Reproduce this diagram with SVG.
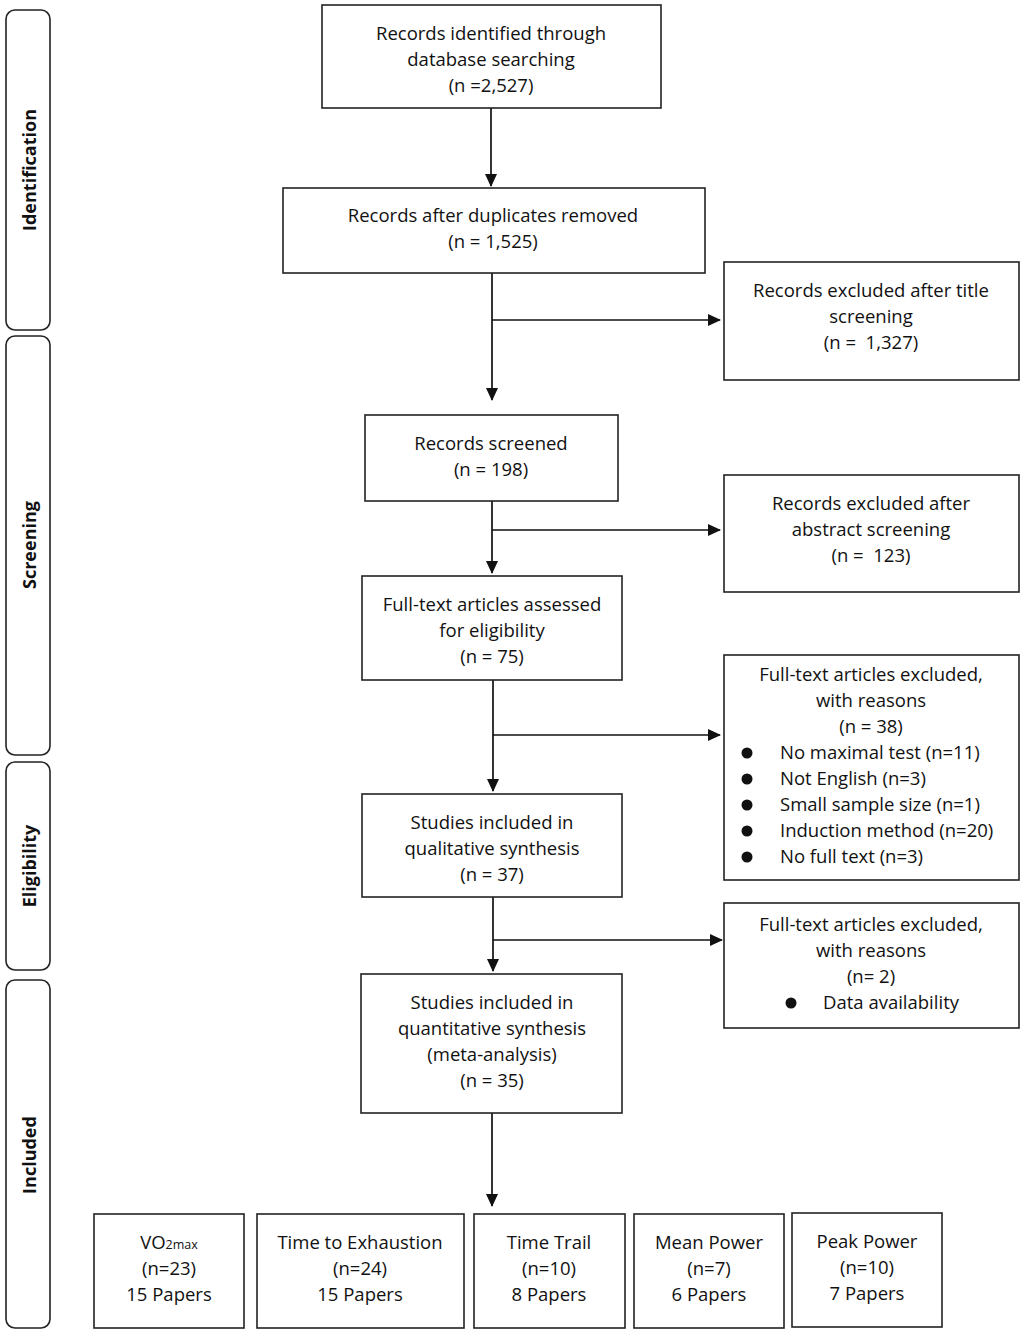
<svg xmlns="http://www.w3.org/2000/svg" width="1026" height="1339" viewBox="0 0 1026 1339">
<style>
.box{fill:#fff;stroke:#222;stroke-width:1.6}
.side{fill:#fff;stroke:#222;stroke-width:1.6}
.t{font-family:"Open Sans","Liberation Sans",sans-serif;font-size:18.5px;fill:#111;text-anchor:middle}
.tl{font-family:"Open Sans","Liberation Sans",sans-serif;font-size:18.5px;fill:#111}
.s{font-family:"Open Sans","Liberation Sans",sans-serif;font-size:18px;font-weight:bold;fill:#111;text-anchor:middle}
.c{fill:none;stroke:#111;stroke-width:1.7}
</style>
<defs>
<marker id="ah" markerWidth="13" markerHeight="12" refX="12" refY="6" orient="auto" markerUnits="userSpaceOnUse">
<path d="M0,0 L13,6 L0,12 z" fill="#111"/>
</marker>
</defs>
<rect width="1026" height="1339" fill="#fff"/>
<g id="side-identification"><rect class="side" x="6" y="10" width="44" height="320" rx="9"/><text class="s" transform="translate(36,170) rotate(-90)">Identification</text></g>
<g id="side-screening"><rect class="side" x="6" y="336" width="44" height="419" rx="9"/><text class="s" transform="translate(36,545) rotate(-90)">Screening</text></g>
<g id="side-eligibility"><rect class="side" x="6" y="762" width="44" height="208" rx="9"/><text class="s" transform="translate(36,866) rotate(-90)">Eligibility</text></g>
<g id="side-included"><rect class="side" x="6" y="980" width="44" height="348" rx="9"/><text class="s" transform="translate(36,1155) rotate(-90)">Included</text></g>

<g id="connectors">
<line class="c" x1="491" y1="108" x2="491" y2="186" marker-end="url(#ah)"/>
<line class="c" x1="492" y1="273" x2="492" y2="400" marker-end="url(#ah)"/>
<line class="c" x1="492" y1="320" x2="720" y2="320" marker-end="url(#ah)"/>
<line class="c" x1="492" y1="501" x2="492" y2="573" marker-end="url(#ah)"/>
<line class="c" x1="492" y1="530" x2="720" y2="530" marker-end="url(#ah)"/>
<line class="c" x1="493" y1="680" x2="493" y2="791" marker-end="url(#ah)"/>
<line class="c" x1="493" y1="735" x2="720" y2="735" marker-end="url(#ah)"/>
<line class="c" x1="493" y1="897" x2="493" y2="971" marker-end="url(#ah)"/>
<line class="c" x1="493" y1="940" x2="722" y2="940" marker-end="url(#ah)"/>
<line class="c" x1="492" y1="1113" x2="492" y2="1206" marker-end="url(#ah)"/>
</g>

<g id="n-identified"><rect class="box" x="322" y="5" width="339" height="103"/>
<text class="t" x="491" y="40">Records identified through</text><text class="t" x="491" y="66">database searching</text><text class="t" x="491" y="92">(n =2,527)</text></g>
<g id="n-duplicates"><rect class="box" x="283" y="188" width="422" height="85"/>
<text class="t" x="493" y="222">Records after duplicates removed</text><text class="t" x="493" y="248">(n = 1,525)</text></g>
<g id="n-excl-title"><rect class="box" x="724" y="262" width="295" height="118"/>
<text class="t" x="871" y="297">Records excluded after title</text><text class="t" x="871" y="323">screening</text><text class="t" x="871" y="349" xml:space="preserve">(n =  1,327)</text></g>
<g id="n-screened"><rect class="box" x="365" y="415" width="253" height="86"/>
<text class="t" x="491" y="450">Records screened</text><text class="t" x="491" y="476">(n = 198)</text></g>
<g id="n-excl-abstract"><rect class="box" x="724" y="475" width="295" height="117"/>
<text class="t" x="871" y="510">Records excluded after</text><text class="t" x="871" y="536">abstract screening</text><text class="t" x="871" y="562" xml:space="preserve">(n =  123)</text></g>
<g id="n-fulltext"><rect class="box" x="362" y="576" width="260" height="104"/>
<text class="t" x="492" y="611">Full-text articles assessed</text><text class="t" x="492" y="637">for eligibility</text><text class="t" x="492" y="663">(n = 75)</text></g>
<g id="n-excl-fulltext"><rect class="box" x="724" y="655" width="295" height="225"/>
<text class="t" x="871" y="681">Full-text articles excluded,</text><text class="t" x="871" y="707">with reasons</text><text class="t" x="871" y="733">(n = 38)</text>
<circle cx="747" cy="753" r="5.5" fill="#111"/><text class="tl" x="780" y="759">No maximal test (n=11)</text>
<circle cx="747" cy="779" r="5.5" fill="#111"/><text class="tl" x="780" y="785">Not English (n=3)</text>
<circle cx="747" cy="805" r="5.5" fill="#111"/><text class="tl" x="780" y="811">Small sample size (n=1)</text>
<circle cx="747" cy="831" r="5.5" fill="#111"/><text class="tl" x="780" y="837">Induction method (n=20)</text>
<circle cx="747" cy="857" r="5.5" fill="#111"/><text class="tl" x="780" y="863">No full text (n=3)</text></g>
<g id="n-qualitative"><rect class="box" x="362" y="794" width="260" height="103"/>
<text class="t" x="492" y="829">Studies included in</text><text class="t" x="492" y="855">qualitative synthesis</text><text class="t" x="492" y="881">(n = 37)</text></g>
<g id="n-excl-data"><rect class="box" x="724" y="903" width="295" height="125"/>
<text class="t" x="871" y="931">Full-text articles excluded,</text><text class="t" x="871" y="957">with reasons</text><text class="t" x="871" y="983">(n= 2)</text>
<circle cx="791" cy="1003" r="5.5" fill="#111"/><text class="tl" x="823" y="1009">Data availability</text></g>
<g id="n-quantitative"><rect class="box" x="361" y="974" width="261" height="139"/>
<text class="t" x="492" y="1009">Studies included in</text><text class="t" x="492" y="1035">quantitative synthesis</text><text class="t" x="492" y="1061">(meta-analysis)</text><text class="t" x="492" y="1087">(n = 35)</text></g>

<g id="n-vo2max"><rect class="box" x="94" y="1214" width="150" height="114"/>
<text class="t" x="169" y="1249">VO<tspan font-size="12.5">2max</tspan></text><text class="t" x="169" y="1275">(n=23)</text><text class="t" x="169" y="1301">15 Papers</text></g>
<g id="n-tte"><rect class="box" x="257" y="1214" width="207" height="114"/>
<text class="t" x="360" y="1249">Time to Exhaustion</text><text class="t" x="360" y="1275">(n=24)</text><text class="t" x="360" y="1301">15 Papers</text></g>
<g id="n-tt"><rect class="box" x="474" y="1214" width="151" height="114"/>
<text class="t" x="549" y="1249">Time Trail</text><text class="t" x="549" y="1275">(n=10)</text><text class="t" x="549" y="1301">8 Papers</text></g>
<g id="n-mean"><rect class="box" x="634" y="1214" width="150" height="114"/>
<text class="t" x="709" y="1249">Mean Power</text><text class="t" x="709" y="1275">(n=7)</text><text class="t" x="709" y="1301">6 Papers</text></g>
<g id="n-peak"><rect class="box" x="792" y="1213" width="150" height="114"/>
<text class="t" x="867" y="1248">Peak Power</text><text class="t" x="867" y="1274">(n=10)</text><text class="t" x="867" y="1300">7 Papers</text></g>
</svg>
